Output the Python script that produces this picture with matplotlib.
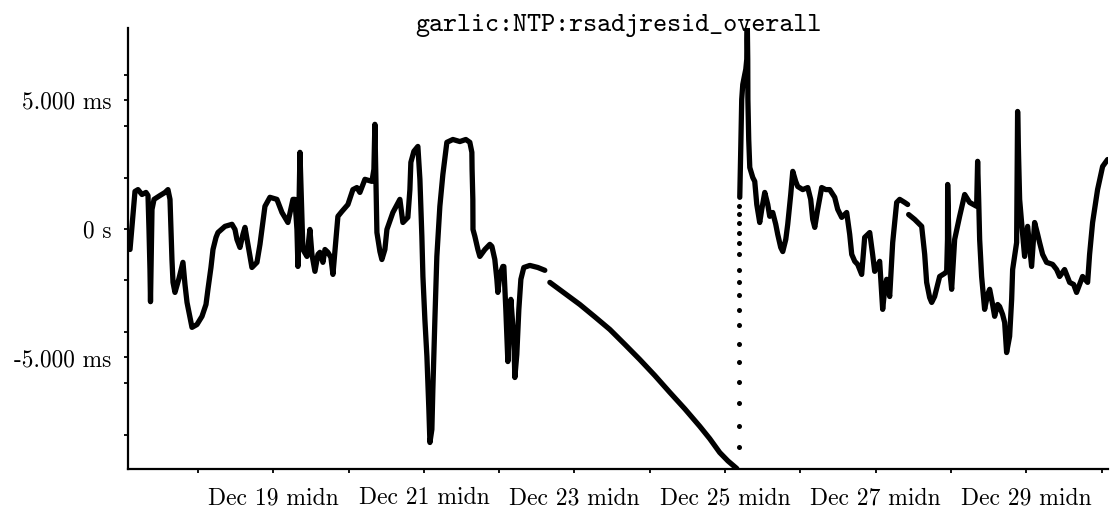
"""
garlic:NTP:rsadjresid_overall residual offset plot, Dec 17 - Dec 30
"""
import numpy as np
import matplotlib
matplotlib.use('Agg')
import matplotlib.pyplot as plt

matplotlib.rcParams['font.family'] = ['cmr10', 'DejaVu Serif']
matplotlib.rcParams['axes.unicode_minus'] = False

# x = day of December (fractional), y = offset in ms
seg1_day = [17.097, 17.137, 17.163, 17.203, 17.256, 17.309, 17.336, 17.349, 17.362, 17.369,
            17.389, 17.416, 17.495, 17.562, 17.601, 17.628, 17.641, 17.654, 17.668, 17.694,
            17.747, 17.800, 17.827, 17.854, 17.893, 17.920, 17.986, 18.053, 18.106, 18.132,
            18.172, 18.199, 18.239, 18.265, 18.358, 18.451, 18.491, 18.517, 18.557, 18.597,
            18.624, 18.663, 18.716, 18.783, 18.823, 18.849, 18.889, 18.955, 19.048, 19.115,
            19.194, 19.261, 19.287, 19.314, 19.327, 19.354, 19.393, 19.447, 19.486, 19.513,
            19.553, 19.593, 19.619, 19.659, 19.686, 19.725, 19.765, 19.792, 19.832, 19.858,
            19.911, 19.991, 20.057, 20.110, 20.150, 20.217, 20.310, 20.336, 20.349, 20.363,
            20.376, 20.416, 20.442, 20.482, 20.509, 20.588, 20.681, 20.708, 20.721, 20.761,
            20.787, 20.814, 20.827, 20.867, 20.920, 20.947, 20.973, 20.987, 21.013, 21.040,
            21.066, 21.080, 21.106, 21.119, 21.146, 21.172, 21.212, 21.252, 21.305, 21.385,
            21.478, 21.557, 21.610, 21.637, 21.640, 21.650, 21.652, 21.677, 21.717, 21.743,
            21.810, 21.876, 21.903, 21.942, 21.969, 21.982, 22.009, 22.049, 22.062, 22.088,
            22.115, 22.155, 22.195, 22.208, 22.234, 22.261, 22.288, 22.327, 22.407, 22.513,
            22.606]
seg1_ms = [-0.80, 0.56, 1.46, 1.53, 1.34, 1.42, 1.30, -0.02, -1.58, -2.83,
           0.76, 1.15, 1.30, 1.42, 1.53, 1.15, -0.02, -1.19, -2.08, -2.47,
           -1.93, -1.30, -2.16, -2.86, -3.44, -3.83, -3.72, -3.40, -2.94, -2.35,
           -1.50, -0.80, -0.33, -0.14, 0.10, 0.18, -0.02, -0.41, -0.72, -0.21,
           0.06, -0.60, -1.50, -1.30, -0.60, -0.02, 0.88, 1.23, 1.15, 0.64,
           0.25, 1.15, 1.15, -0.02, -1.46, 2.98, -0.80, -1.07, -0.02, -0.99,
           -1.65, -0.99, -0.91, -1.30, -0.80, -0.91, -1.11, -1.77, -0.41, 0.49,
           0.68, 0.95, 1.53, 1.61, 1.42, 1.93, 1.85, 2.32, 4.07, 1.93,
           -0.14, -0.88, -1.19, -0.80, -0.02, 0.64, 1.15, 0.56, 0.25, 0.37,
           0.45, 1.53, 2.59, 3.02, 3.21, 1.93, -0.29, -1.85, -3.52, -4.96,
           -7.02, -8.31, -7.80, -6.25, -3.52, -1.07, 0.88, 2.12, 3.37, 3.48,
           3.40, 3.48, 3.37, 2.98, 2.32, 1.15, -0.02, -0.29, -0.80, -1.07,
           -0.80, -0.60, -0.68, -1.19, -1.96, -2.47, -1.77, -1.46, -1.46, -3.13,
           -5.16, -2.74, -4.30, -5.78, -4.88, -3.13, -1.96, -1.50, -1.42, -1.50,
           -1.61]

# long free-running drift after Dec 22
seg2_day = [22.673, 22.872, 23.071, 23.270, 23.469, 23.668, 23.867, 24.066, 24.266, 24.465,
            24.664, 24.796, 24.929, 25.039, 25.155, 25.182]
seg2_ms = [-2.08, -2.51, -2.94, -3.42, -3.91, -4.49, -5.08, -5.70, -6.36, -7.00,
           -7.68, -8.16, -8.70, -9.03, -9.32, -9.55]

# step back on Dec 25 (sparse samples)
step_day = 25.182
step_ms = [-8.50, -7.65, -6.79, -5.97, -5.19, -4.46, -3.75, -3.17, -2.59, -2.08,
           -1.58, -0.99, -0.53, -0.14, 0.25, 0.60, 0.88]

seg3_day = [25.195, 25.208, 25.221, 25.235, 25.261, 25.275, 25.288, 25.290, 25.295, 25.301,
            25.303, 25.314, 25.328, 25.368, 25.394, 25.421, 25.460, 25.487, 25.527, 25.567,
            25.593, 25.633, 25.673, 25.699, 25.739, 25.766, 25.806, 25.832, 25.872, 25.899,
            25.938, 25.965, 26.031, 26.098, 26.137, 26.164, 26.191, 26.230, 26.283, 26.337,
            26.390, 26.456, 26.496, 26.549, 26.615, 26.655, 26.682, 26.722, 26.761, 26.814,
            26.841, 26.854, 26.921, 26.960, 26.987, 27.053, 27.093, 27.120, 27.146, 27.186,
            27.226, 27.279, 27.319, 27.385, 27.425]
seg3_ms = [1.23, 3.09, 5.04, 5.62, 6.01, 6.21, 6.60, 7.37, 8.00, 6.60,
           5.04, 3.48, 2.39, 2.00, 1.85, 0.95, 0.25, 0.76, 1.42, 0.95,
           0.49, 0.64, 0.18, -0.21, -0.72, -0.88, -0.41, 0.18, 1.34, 2.24,
           1.85, 1.65, 1.53, 1.61, 1.15, 0.37, 0.06, 0.76, 1.61, 1.53,
           1.53, 1.23, 0.76, 0.45, 0.64, -0.21, -0.99, -1.26, -1.38, -1.77,
           -0.80, -0.33, -0.14, -1.00, -1.65, -1.26, -3.13, -2.35, -1.96, -2.63,
           -0.53, 1.03, 1.15, 1.03, 0.95]

seg4_day = [27.438, 27.518, 27.611, 27.651, 27.677, 27.717, 27.744, 27.783, 27.850, 27.916,
            27.943, 27.954, 27.956, 27.969, 27.983, 28.009, 28.049, 28.115, 28.182, 28.248,
            28.341, 28.354, 28.368, 28.381, 28.407, 28.447, 28.487, 28.514, 28.553, 28.580,
            28.620, 28.646, 28.686, 28.713, 28.739, 28.779, 28.806, 28.819, 28.872, 28.885,
            28.899, 28.912, 28.938, 28.978, 29.018, 29.071, 29.111, 29.151, 29.177, 29.217,
            29.270, 29.350, 29.403, 29.443, 29.509, 29.576, 29.629, 29.668, 29.708, 29.748,
            29.815, 29.841, 29.881, 29.947, 30.014, 30.080]
seg4_ms = [0.56, 0.37, 0.10, -0.99, -2.08, -2.67, -2.86, -2.63, -1.85, -1.73,
           -1.65, -0.41, 1.73, -0.02, -1.58, -2.35, -0.41, 0.49, 1.34, 1.03,
           0.88, 2.63, 1.15, -0.41, -1.85, -3.13, -2.55, -2.35, -2.94, -3.40,
           -2.94, -3.02, -3.33, -3.64, -4.81, -4.18, -2.74, -1.58, -0.53, 4.57,
           2.70, 1.15, 0.25, -1.07, 0.10, -1.46, 0.25, -0.21, -0.53, -0.99,
           -1.30, -1.38, -1.58, -1.85, -1.58, -2.08, -2.16, -2.47, -2.16, -1.85,
           -2.08, -0.99, 0.25, 1.53, 2.43, 2.70]

label_days = [19, 21, 23, 25, 27, 29]
minor_days = [18, 20, 22, 24, 26, 28, 30]
ytick_vals = [-5, 0, 5]
ytick_labels = ['-5.000 ms', '0 s', '5.000 ms']
yminor_vals = [-8, -6, -4, -2, 2, 4, 6]
title = 'garlic:NTP:rsadjresid_overall'


def main():
    fig = plt.figure(figsize=(11.1, 5.08), dpi=100)
    ax = fig.add_axes([0.1153, 0.0768, 0.8832, 0.8682])

    for xs, ys in [(seg1_day, seg1_ms), (seg2_day, seg2_ms), (seg3_day, seg3_ms), (seg4_day, seg4_ms)]:
        ax.plot(xs, ys, color='black', lw=3.8, solid_joinstyle='round', solid_capstyle='round')
    ax.plot([step_day] * len(step_ms), step_ms, 'o', color='black', ms=3.6, mew=0)

    ax.set_xlim(17.07, 30.09)
    ax.set_ylim(-9.34, 7.82)

    for s in ['top', 'right']:
        ax.spines[s].set_visible(False)
    for s in ['left', 'bottom']:
        ax.spines[s].set_linewidth(1.6)

    ax.set_xticks(label_days)
    ax.set_xticklabels([f'Dec {d} midn' for d in label_days], fontsize=17)
    ax.set_xticks(minor_days, minor=True)
    ax.set_yticks(ytick_vals)
    ax.set_yticklabels(ytick_labels, fontsize=16.8)
    ax.set_yticks(yminor_vals, minor=True)
    ax.tick_params(axis='both', which='both', direction='out', length=3, width=1.3)
    ax.tick_params(axis='x', which='major', pad=10)
    ax.tick_params(axis='y', which='major', pad=9)

    fig.text(0.5568, 0.950, title, ha='center', va='center',
             fontsize=19.3, family=['cmtt10', 'DejaVu Sans Mono'])

    fig.savefig('out.png', dpi=100)
    plt.close(fig)


if __name__ == '__main__':
    main()
